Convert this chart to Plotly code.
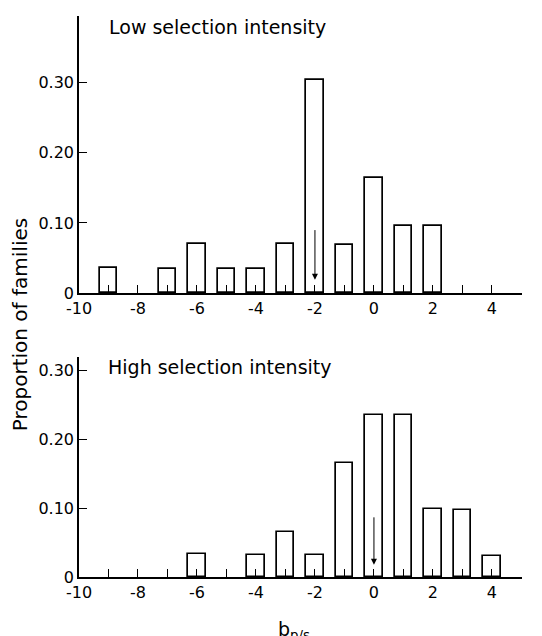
import plotly.graph_objects as go
from plotly.subplots import make_subplots

# b_p/s classes (bar centres) and proportion of families
low_x = [-9, -7, -6, -5, -4, -3, -2, -1, 0, 1, 2]
low_y = [0.036, 0.035, 0.070, 0.034, 0.034, 0.070, 0.304, 0.069, 0.164, 0.096, 0.096]

high_x = [-6, -4, -3, -2, -1, 0, 1, 2, 3, 4]
high_y = [0.033, 0.032, 0.066, 0.032, 0.166, 0.235, 0.235, 0.099, 0.098, 0.030]

# mean of each distribution (arrow)
low_mean = -2
high_mean = 0

x_tick_vals = [-10, -8, -6, -4, -2, 0, 2, 4]
x_tick_text = ["-10", "-8", "-6", "-4", "-2", "0", "2", "4"]
y_tick_vals = [0, 0.10, 0.20, 0.30]
y_tick_text = ["0", "0.10", "0.20", "0.30"]

FONT = "DejaVu Sans"

fig = make_subplots(rows=2, cols=1, vertical_spacing=0.1)

bar_style = dict(
    width=0.6,
    marker=dict(color="white", line=dict(color="black", width=1.7)),
    showlegend=False,
    hoverinfo="x+y",
)

fig.add_trace(go.Bar(x=low_x, y=low_y, **bar_style), row=1, col=1)
fig.add_trace(go.Bar(x=high_x, y=high_y, **bar_style), row=2, col=1)

axis_x = dict(
    range=[-10, 5.02],
    tickvals=x_tick_vals,
    ticktext=x_tick_text,
    ticks="inside",
    ticklen=8,
    tickwidth=1,
    tickcolor="black",
    minor=dict(dtick=1, tick0=-10, ticks="inside", ticklen=8, tickwidth=1, tickcolor="black"),
    showline=True,
    linecolor="black",
    linewidth=1.5,
    showgrid=False,
    zeroline=False,
    layer="above traces",
    tickfont=dict(family=FONT, size=16, color="black"),
)
axis_y = dict(
    tickvals=y_tick_vals,
    ticktext=y_tick_text,
    ticks="inside",
    ticklen=8,
    tickwidth=1,
    tickcolor="black",
    showline=True,
    linecolor="black",
    linewidth=1.5,
    showgrid=False,
    zeroline=False,
    tickfont=dict(family=FONT, size=16, color="black"),
)

fig.update_xaxes(**axis_x)
fig.update_yaxes(**axis_y)
fig.update_yaxes(range=[0, 0.395], domain=[0.506, 1.0], row=1, col=1)
fig.update_yaxes(range=[0, 0.32], domain=[0.0, 0.392], row=2, col=1)

# arrows marking the mean
fig.add_annotation(
    x=low_mean, y=0.019, ax=low_mean, ay=0.092, xref="x", yref="y", axref="x", ayref="y",
    showarrow=True, arrowhead=2, arrowsize=1.2, arrowwidth=1, arrowcolor="black", text="",
)
fig.add_annotation(
    x=high_mean, y=0.018, ax=high_mean, ay=0.089, xref="x2", yref="y2", axref="x2", ayref="y2",
    showarrow=True, arrowhead=2, arrowsize=1.2, arrowwidth=1, arrowcolor="black", text="",
)

fig.add_annotation(
    text="Low selection intensity", x=-9.05, y=0.38, xref="x", yref="y",
    xanchor="left", yanchor="middle", showarrow=False,
    font=dict(family=FONT, size=19, color="black"),
)
fig.add_annotation(
    text="High selection intensity", x=-9.1, y=0.305, xref="x2", yref="y2",
    xanchor="left", yanchor="middle", showarrow=False,
    font=dict(family=FONT, size=19, color="black"),
)

fig.add_annotation(
    text="Proportion of families", textangle=-90, x=-0.133, y=0.449, xref="paper", yref="paper",
    xanchor="center", yanchor="middle", showarrow=False,
    font=dict(family=FONT, size=20, color="black"),
)

fig.add_annotation(
    text="b<sub>p/s</sub>", x=0.485, y=-0.07, xref="paper", yref="paper",
    xanchor="center", yanchor="top", showarrow=False,
    font=dict(family=FONT, size=19, color="black"),
)

# page body adds an 8px offset, so the figure is 8px smaller than the window
fig.update_layout(
    width=534,
    height=628,
    margin=dict(l=71, r=20, t=8, b=59),
    plot_bgcolor="white",
    paper_bgcolor="white",
    bargap=0,
)

fig.write_html("out.html")
